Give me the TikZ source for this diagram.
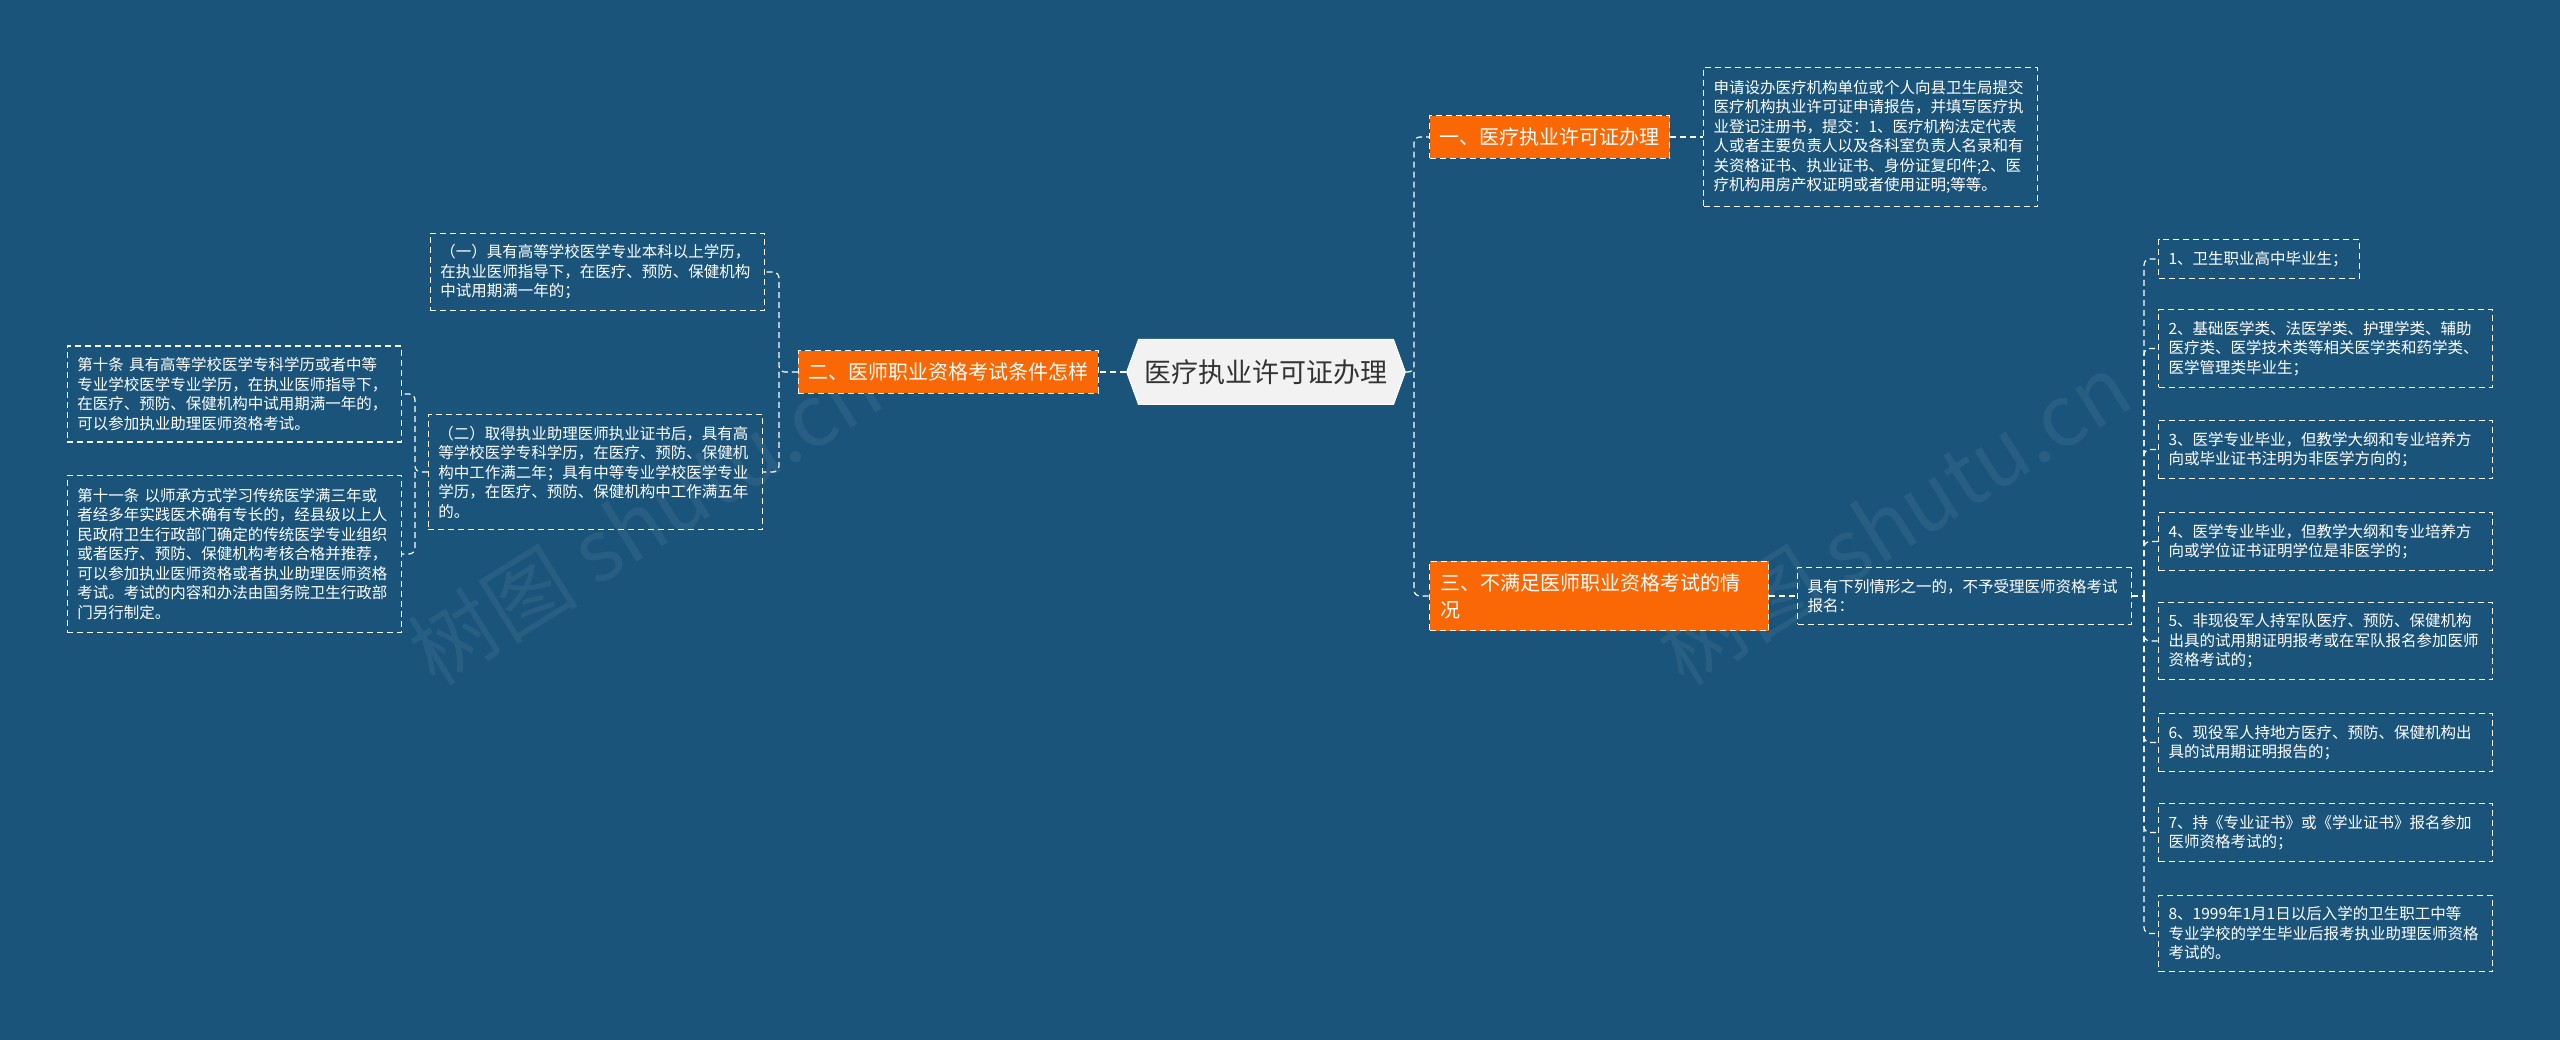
\documentclass[tikz,border=0pt]{standalone}
\usepackage{fontspec}
\setmainfont{Noto Sans CJK SC}
\usetikzlibrary{shapes.symbols}
\definecolor{bgblue}{RGB}{26,84,122}
\definecolor{branchorange}{RGB}{250,104,6}
\definecolor{rootgray}{RGB}{242,242,242}
\definecolor{roottext}{RGB}{51,51,51}

\begin{document}
\begin{tikzpicture}[x=1pt, y=-1pt]

  \tikzset{root/.style={shape=signal, signal to=west and east, signal pointer angle=140,
                        fill=rootgray, draw=white, line width=1pt, text=roottext,
                        font=\fontsize{27}{32}\selectfont, minimum height=65pt, inner xsep=6pt},
           branch/.style={fill=branchorange, draw=white, dash pattern=on 6pt off 4pt, line width=1.2pt,
                          text=white, font=\fontsize{20}{27}\selectfont, inner xsep=10pt, inner ysep=12pt, align=left},
           leaf/.style={draw=white, dash pattern=on 6pt off 4pt, line width=1.2pt, text=white,
                        font=\fontsize{15.5}{19.5}\selectfont, inner xsep=10pt, inner ysep=11.5pt,
                        align=left, text width=314pt},
           link/.style={draw=white, dash pattern=on 6pt off 4pt, line width=1.2pt, rounded corners=6pt},
           wmark/.style={text=white, opacity=0.06, font=\fontsize{85}{85}\selectfont, rotate=32}}

  \fill[bgblue] (0,0) rectangle (2560,1040);

  % watermarks
  \node[wmark] (wm1) at (645,519) {树图 shutu.cn};
  \node[wmark] (wm2) at (1894,519) {树图 shutu.cn};

  % centre and the three branches
  \node[root] (root) at (1266,372) {医疗执业许可证办理};
  \node[branch, anchor=west] (b1) at (1429,137) {一、医疗执业许可证办理};
  \node[branch, anchor=east] (b2) at (1099,372) {二、医师职业资格考试条件怎样};
  \node[branch, anchor=west, text width=317pt, inner xsep=11pt] (b3) at (1429,596)
    {三、不满足医师职业资格考试的情\\况};

  % branch one
  \node[leaf, anchor=west, inner ysep=13pt] (l1) at (1703,137)
    {申请设办医疗机构单位或个人向县卫生局提交\\
     医疗机构执业许可证申请报告，并填写医疗执\\
     业登记注册书，提交：1、医疗机构法定代表\\
     人或者主要负责人以及各科室负责人名录和有\\
     关资格证书、执业证书、身份证复印件;2、医\\
     疗机构用房产权证明或者使用证明;等等。};

  % branch two
  \node[leaf, anchor=east] (l21) at (765,272)
    {（一）具有高等学校医学专业本科以上学历，\\
     在执业医师指导下，在医疗、预防、保健机构\\
     中试用期满一年的；};
  \node[leaf, anchor=east] (l22) at (763,472)
    {（二）取得执业助理医师执业证书后，具有高\\
     等学校医学专科学历，在医疗、预防、保健机\\
     构中工作满二年；具有中等专业学校医学专业\\
     学历，在医疗、预防、保健机构中工作满五年\\
     的。};
  \node[leaf, anchor=east] (l221) at (402,394)
    {第十条 具有高等学校医学专科学历或者中等\\
     专业学校医学专业学历，在执业医师指导下，\\
     在医疗、预防、保健机构中试用期满一年的，\\
     可以参加执业助理医师资格考试。};
  \node[leaf, anchor=east, inner ysep=13pt] (l222) at (402,554)
    {第十一条 以师承方式学习传统医学满三年或\\
     者经多年实践医术确有专长的，经县级以上人\\
     民政府卫生行政部门确定的传统医学专业组织\\
     或者医疗、预防、保健机构考核合格并推荐，\\
     可以参加执业医师资格或者执业助理医师资格\\
     考试。考试的内容和办法由国务院卫生行政部\\
     门另行制定。};

  % branch three
  \node[leaf, anchor=west] (l31) at (1797,596)
    {具有下列情形之一的，不予受理医师资格考试\\报名：};
  \coordinate (j4) at (2144,596);
  \draw[link] (l31.east) -- (j4);

  \foreach \y/\n/\w/\t in {
      259/1/181/{1、卫生职业高中毕业生；},
      348.5/2/314/{2、基础医学类、法医学类、护理学类、辅助\\医疗类、医学技术类等相关医学类和药学类、\\医学管理类毕业生；},
      449.5/3/314/{3、医学专业毕业，但教学大纲和专业培养方\\向或毕业证书注明为非医学方向的；},
      541.5/4/314/{4、医学专业毕业，但教学大纲和专业培养方\\向或学位证书证明学位是非医学的；},
      641/5/314/{5、非现役军人持军队医疗、预防、保健机构\\出具的试用期证明报考或在军队报名参加医师\\资格考试的；},
      742.5/6/314/{6、现役军人持地方医疗、预防、保健机构出\\具的试用期证明报告的；},
      832.5/7/314/{7、持《专业证书》或《学业证书》报名参加\\医师资格考试的；},
      933.5/8/314/{8、1999年1月1日以后入学的卫生职工中等\\专业学校的学生毕业后报考执业助理医师资格\\考试的。}} {
    \node[leaf, anchor=west, text width=\w pt] (i\n) at (2158,\y) {\t};
    \draw[link] (j4) |- (i\n.west);
  }

  % the links
  \coordinate (j1) at (1414,372);
  \draw[link] (root.east) -- (j1) |- (b1.west);
  \draw[link] (j1) |- (b3.west);
  \draw[link] (root.west) -- (b2.east);
  \draw[link] (b1.east) -- (l1.west);
  \draw[link] (b3.east) -- (l31.west);

  \coordinate (j2) at (779,372);
  \draw[link] (b2.west) -- (j2) |- (l21.east);
  \draw[link] (j2) |- (l22.east);

  \coordinate (j3) at (415,472);
  \draw[link] (l22.west) -- (j3) |- (l221.east);
  \draw[link] (j3) |- (l222.east);

\end{tikzpicture}
\end{document}
